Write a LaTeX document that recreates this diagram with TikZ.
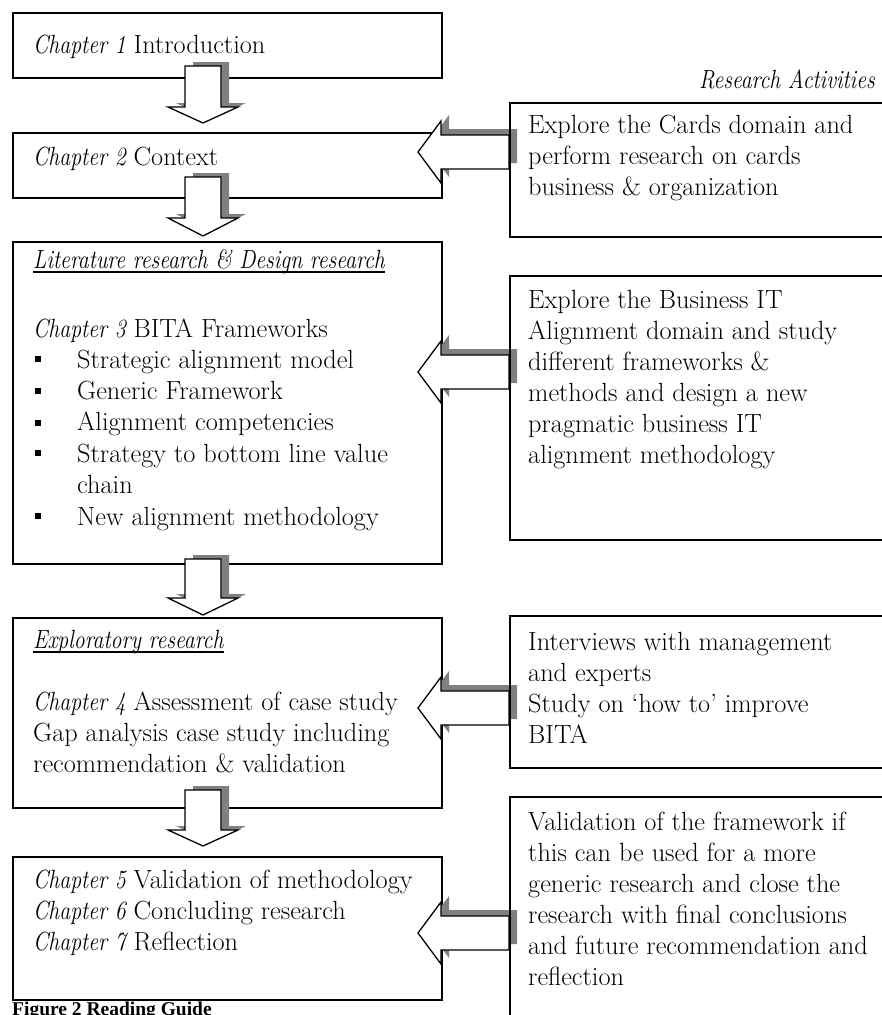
\documentclass[tikz,border=0pt]{standalone}
\usepackage{fontspec}
\usepackage{graphicx}
\newfontfamily\capfont{Liberation Serif}
\definecolor{arrowgrey}{RGB}{128,128,128}
% narrow italic for chapter labels and headings
\newcommand\chap[1]{\scalebox{0.83}[1]{\itshape #1}}

% Down-pointing block arrow: #1 shaft top, #2 head top, #3 tip (x fixed)
\newcommand\DownBlock[3]{%
  \path[shadowfill,shift={(8,-4)}] (185,#1) -- (221,#1) -- (221,#2) -- (238,#2)
        -- (203,#3) -- (168,#2) -- (185,#2) -- cycle;
  \path[blockarrow] (185,#1) -- (221,#1) -- (221,#2) -- (238,#2)
        -- (203,#3) -- (168,#2) -- (185,#2) -- cycle;
}
% Left-pointing block arrow centred on height #1
\newcommand\LeftBlock[1]{%
  \path[shadowfill,shift={(8,-6)}] (509,#1-17) -- (441,#1-17) -- (441,#1-31)
        -- (418,#1) -- (441,#1+31) -- (441,#1+17) -- (509,#1+17) -- cycle;
  \path[blockarrow] (509,#1-17) -- (441,#1-17) -- (441,#1-31)
        -- (418,#1) -- (441,#1+31) -- (441,#1+17) -- (509,#1+17) -- cycle;
}

\begin{document}
\begin{tikzpicture}[x=1pt,y=-1pt,
  frame/.style={draw=black,line width=1.5pt,inner sep=0pt,anchor=north west},
  leftbox/.style={frame,minimum width=429pt},
  rightbox/.style={frame,minimum width=400pt},
  txt/.style={inner sep=0pt,anchor=base west,align=left,
              font=\fontsize{26.3}{31}\selectfont},
  bullet/.style={fill=black,inner sep=0pt,minimum size=6.5pt},
  shadowfill/.style={fill=arrowgrey,draw=none},
  blockarrow/.style={fill=white,draw=black,line width=1.3pt,line join=miter},
]
\useasboundingbox (0,0) rectangle (882,1015);
\clip (0,0) rectangle (882,1015);

% chapter boxes
\node[leftbox,minimum height=65pt]  (b1) at (12,12)  {};
\node[leftbox,minimum height=65pt]  (b2) at (12,132) {};
\node[leftbox,minimum height=322pt] (b3) at (12,241) {};
\node[leftbox,minimum height=190pt] (b4) at (12,617) {};
\node[leftbox,minimum height=143pt] (b5) at (12,856) {};

% chapter texts (multi-line nodes sit on the baseline of their last line)
\node[txt] (t1) at (33,53)  {\chap{Chapter 1} Introduction};
\node[txt] (t2) at (33,165) {\chap{Chapter 2} Context};
\node[txt] (t3h) at (33,268) {\chap{Literature research \& Design research}};
\draw[line width=1.2pt] ([yshift=-4pt]t3h.base west) -- ([yshift=-4pt]t3h.base east);
\node[txt] (t3) at (33,337) {\chap{Chapter 3} BITA Frameworks};
\node[txt,font=\fontsize{26.3}{31.4}\selectfont] (t3l) at (77,525)
  {Strategic alignment model\\Generic Framework\\Alignment competencies\\
   Strategy to bottom line value\\chain\\New alignment methodology};
\node[bullet] (u1) at (38,359) {};
\node[bullet] (u2) at (38,391) {};
\node[bullet] (u3) at (38,423) {};
\node[bullet] (u4) at (38,453) {};
\node[bullet] (u5) at (38,516) {};
\node[txt] (t4h) at (33,648) {\chap{Exploratory research}};
\draw[line width=1.2pt] ([yshift=-4pt]t4h.base west) -- ([yshift=-4pt]t4h.base east);
\node[txt] (t4) at (33,772) {\chap{Chapter 4} Assessment of case study\\
  Gap analysis case study including\\recommendation \& validation};
\node[txt] (t5) at (33,950) {\chap{Chapter 5} Validation of methodology\\
  \chap{Chapter 6} Concluding research\\\chap{Chapter 7} Reflection};

% flow between chapters
\DownBlock{66}{107}{123}
\DownBlock{177}{218}{236}
\DownBlock{559}{598}{615}
\DownBlock{790}{830}{846}

% research activities feeding the chapters
\LeftBlock{152}
\LeftBlock{372}
\LeftBlock{708}
\LeftBlock{933}

\node[txt,anchor=base east] (ra) at (875,88) {\chap{Research Activities}};

\node[rightbox,minimum height=134pt] (r1) at (509,102) {};
\node[rightbox,minimum height=264pt] (r2) at (509,275) {};
\node[rightbox,minimum height=152pt] (r3) at (509,615) {};
\node[rightbox,minimum height=240pt] (r4) at (509,796) {};

\node[txt] (s1) at (528,195) {Explore the Cards domain and\\perform research on cards\\
  business \& organization};
\node[txt] (s2) at (528,463) {Explore the Business IT\\Alignment domain and study\\
  different frameworks \&\\methods and design a new\\pragmatic business IT\\
  alignment methodology};
\node[txt] (s3) at (528,743) {Interviews with management\\and experts\\
  Study on `how to' improve\\BITA};
\node[txt] (s4) at (528,985) {Validation of the framework if\\this can be used for a more\\
  generic research and close the\\research with final conclusions\\
  and future recommendation and\\reflection};

\node[txt,font=\capfont\bfseries\fontsize{19.5}{22}\selectfont] (cap) at (12,1015)
  {Figure 2 Reading Guide};
\end{tikzpicture}
\end{document}
